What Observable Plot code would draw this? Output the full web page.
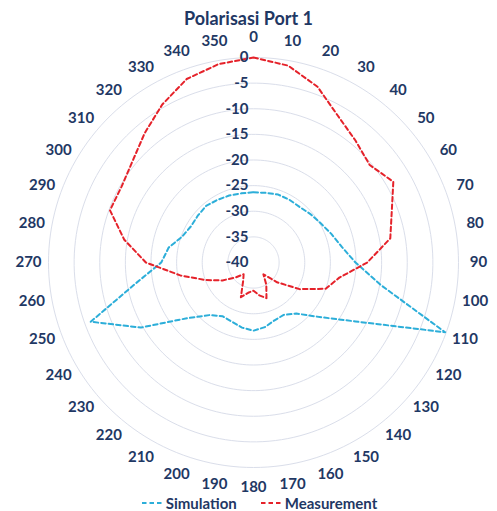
<!DOCTYPE html>
<html><head><meta charset="utf-8">
<script src="https://cdn.jsdelivr.net/npm/d3@7"></script>
<script src="https://cdn.jsdelivr.net/npm/@observablehq/plot@0.6"></script>
<style>
body{margin:0;background:#fff;font-family:Lato,"Open Sans",sans-serif;width:497px;height:511px;overflow:hidden;position:relative;}
#title{height:30px;line-height:36px;text-align:center;font-weight:bold;font-size:18px;color:#1f3864;}
#chart svg{display:block;}
#legend{position:absolute;left:0;top:494px;width:497px;display:flex;justify-content:center;align-items:center;gap:24px;height:18px;padding-left:22px;box-sizing:border-box;font-weight:bold;font-size:15px;color:#1f3864;}
#legend .item{display:flex;align-items:center;}
#legend svg{margin-right:2px;}
</style></head><body>
<div id="title">Polarisasi Port 1</div>
<div id="chart"></div>
<div id="legend"></div>
<script>
const angles = [0,10,20,30,40,50,60,70,80,90,100,110,120,130,140,150,160,170,180,190,200,210,220,230,240,250,260,270,280,290,300,310,320,330,340,350];
const simulation = [-26.3,-26.2,-25.9,-25.9,-25.9,-25.4,-24.8,-23.8,-22.5,-20.1,-14.8,-0.2,-17,-23.5,-27,-28.2,-28,-27.2,-26.7,-27.1,-27.7,-27.9,-26.6,-23.1,-14.6,-6.2,-16.7,-22,-23.2,-25.2,-25.9,-25.8,-25.6,-25.9,-26.1,-26.3];
const measurement = [0,-1,-3.5,-7,-9,-10.4,-8.5,-11.3,-12.9,-17.8,-23,-25,-29.6,-34,-37,-35,-32.6,-33.5,-34.5,-34,-32.8,-36,-37,-35.5,-33,-30,-25.5,-19,-14.4,-10.2,-10.3,-9.2,-7,-4.4,-1.9,-0.7];
const radialTicks = [0,-5,-10,-15,-20,-25,-30,-35,-40];
const seriesNames = ["Simulation","Measurement"];
const seriesColors = ["#2caed9","#e5222a"];
const textColor = "#1f3864";

const axisMin = -40;
const labelOffset = 3.9;   // angular labels sit just outside the outer ring (in axis units)
const viewExtent = 5.27;   // extra room around the outer ring so the labels stay in the frame

const rows = [];
angles.forEach((a,i)=>{ rows.push({series:seriesNames[0], angle:a, value:simulation[i]}); });
angles.forEach((a,i)=>{ rows.push({series:seriesNames[1], angle:a, value:measurement[i]}); });

const lon = a => 180 - a;
const lat = v => 90 - (v - axisMin);

const chart = Plot.plot({
  width: 497,
  height: 481,
  marginLeft: 21,
  marginRight: 12,
  marginTop: 0,
  marginBottom: 17,
  projection: {
    type: "azimuthal-equidistant",
    rotate: [0, -90],
    domain: d3.geoCircle().center([0, 90]).radius(-axisMin + viewExtent)()
  },
  color: {domain: seriesNames, range: seriesColors},
  style: {fontFamily: "Lato, 'Open Sans', sans-serif", fontSize: "15px", background: "white", overflow: "visible"},
  marks: [
    Plot.geo(radialTicks.filter(v => v > axisMin), {
      geometry: v => d3.geoCircle().center([0, 90]).radius(v - axisMin)(),
      stroke: "#dadeea", strokeWidth: 1, fill: "none"
    }),
    Plot.line(rows, {
      x: d => lon(d.angle), y: d => lat(d.value), z: "series",
      stroke: "series", strokeWidth: 2, strokeDasharray: "4.5,3",
      curve: "linear-closed"
    }),
    Plot.text(radialTicks, {
      x: lon(0), y: v => lat(v), text: v => String(v),
      textAnchor: "end", dx: -5, fill: textColor, fontWeight: "bold", fontSize: 15
    }),
    Plot.text(angles, {
      x: a => lon(a), y: lat(labelOffset), text: a => String(a),
      fill: textColor, fontWeight: "bold", fontSize: 15
    })
  ]
});
document.getElementById("chart").appendChild(chart);

const legend = document.getElementById("legend");
seriesNames.forEach((name, i) => {
  const item = document.createElement("div");
  item.className = "item";
  item.innerHTML = `<svg width="22" height="6"><line x1="0" y1="3" x2="22" y2="3" stroke="${seriesColors[i]}" stroke-width="2" stroke-dasharray="4.5,3"/></svg><span>${name}</span>`;
  legend.appendChild(item);
});
</script>
</body></html>
